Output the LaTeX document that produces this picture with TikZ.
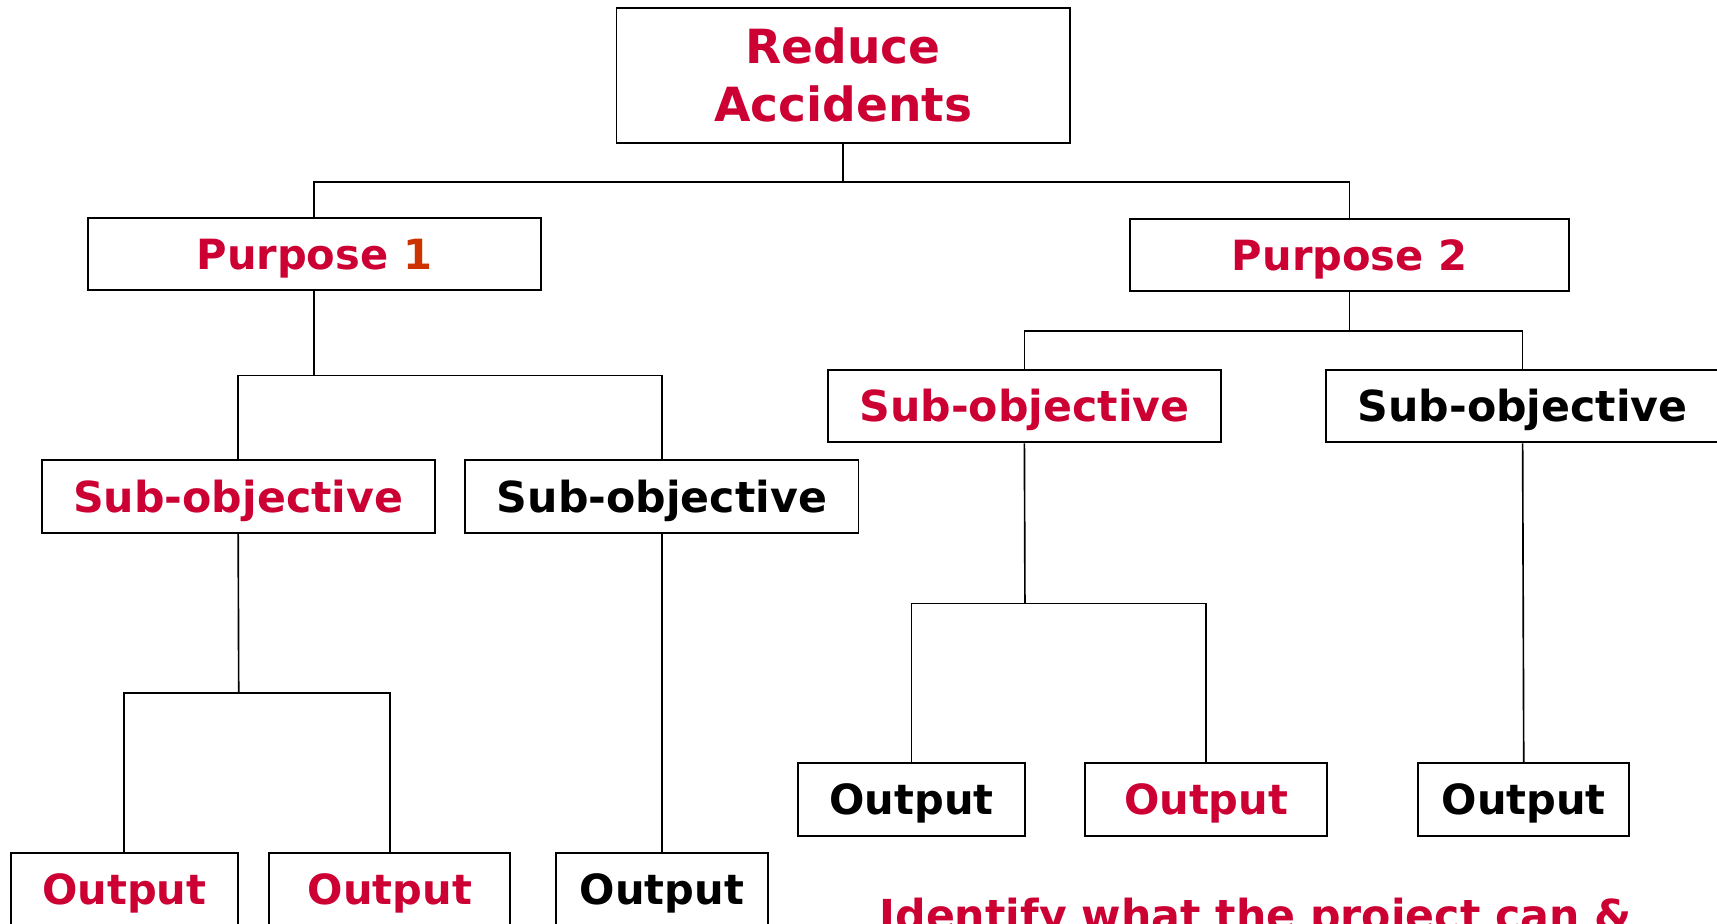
\documentclass[tikz,border=0pt]{standalone}
\usepackage{fontspec}
\setmainfont{DejaVu Sans}
\definecolor{myred}{HTML}{CC0033}
\definecolor{myorange}{HTML}{CC3300}
\begin{document}
\begin{tikzpicture}[x=1pt,y=-1pt,
  box/.style={draw, line width=1.8pt, inner sep=0pt, fill=white},
  link/.style={line width=1.5pt},
  purp/.style={box, minimum height=66pt, font=\fontsize{38}{44}\selectfont\bfseries, text height=27.5pt, text depth=0pt},
  subo/.style={box, minimum width=359pt, minimum height=66pt, font=\fontsize{39}{45}\selectfont\bfseries, text height=28.4pt, text depth=0pt},
  outp/.style={box, minimum height=66pt, font=\fontsize{38}{44}\selectfont\bfseries, text height=27.5pt, text depth=0pt},
  red/.style={text=myred},
  blk/.style={text=black}]
\useasboundingbox (0,0) rectangle (1568,843);
\clip (0,0) rectangle (1568,843);
\fill[white] (0,0) rectangle (1568,843);
% nodes
\node[box, minimum width=414pt, minimum height=124pt, align=center, text=myred,
  font=\fontsize{43}{53}\selectfont\bfseries, text height=84pt, text depth=0pt] (root) at (770,69) {Reduce\\Accidents};
\node[purp, red, minimum width=414pt] (p1) at (287,232) {Purpose \textcolor{myorange}{1}};
\node[purp, red, minimum width=401pt] (p2) at (1232.5,233) {Purpose 2};
\node[subo, red] (sa) at (217.5,453.5) {Sub-objective};
\node[subo, blk] (sb) at (604.5,453.5) {Sub-objective};
\node[subo, red] (sc) at (935.5,371) {Sub-objective};
\node[subo, blk] (sd) at (1390.5,371) {Sub-objective};
\node[outp, red, minimum width=207pt] (o1) at (113.5,812) {Output};
\node[outp, red, minimum width=220pt] (o2) at (356,812) {Output};
\node[outp, blk, minimum width=193pt] (o3) at (604.5,812) {Output};
\node[outp, blk, minimum width=207pt] (o4) at (832.5,730) {Output};
\node[outp, red, minimum width=221pt] (o5) at (1101.5,730) {Output};
\node[outp, blk, minimum width=193pt] (o6) at (1391.5,730) {Output};
\node[anchor=base west, inner sep=0pt, text=myred, font=\fontsize{39}{45}\selectfont\bfseries] (note) at (803,850) {Identify what the project can \&};
% junctions
\coordinate (j0) at (770,166);
\coordinate (j1) at (287,343);
\coordinate (j2) at (218,633);
\coordinate (j3) at (1232.5,302);
\coordinate (j4) at (936,551);
% connectors
\draw[link] (root.south) -- (j0);
\draw[link] (j0) -| (p1.north);
\draw[link] (j0) -| (p2.north);
\draw[link] (p1.south) -- (j1);
\draw[link] (j1) -| (sa.north);
\draw[link] (j1) -| (sb.north);
\draw[link] (sa.south) -- (j2);
\draw[link] (j2) -| (o1.north);
\draw[link] (j2) -| (o2.north);
\draw[link] (sb.south) -- (o3.north);
\draw[link] (p2.south) -- (j3);
\draw[link] (j3) -| (sc.north);
\draw[link] (j3) -| (sd.north);
\draw[link] (sc.south) -- (j4);
\draw[link] (j4) -| (o4.north);
\draw[link] (j4) -| (o5.north);
\draw[link] (sd.south) -- (o6.north);
\end{tikzpicture}
\end{document}
